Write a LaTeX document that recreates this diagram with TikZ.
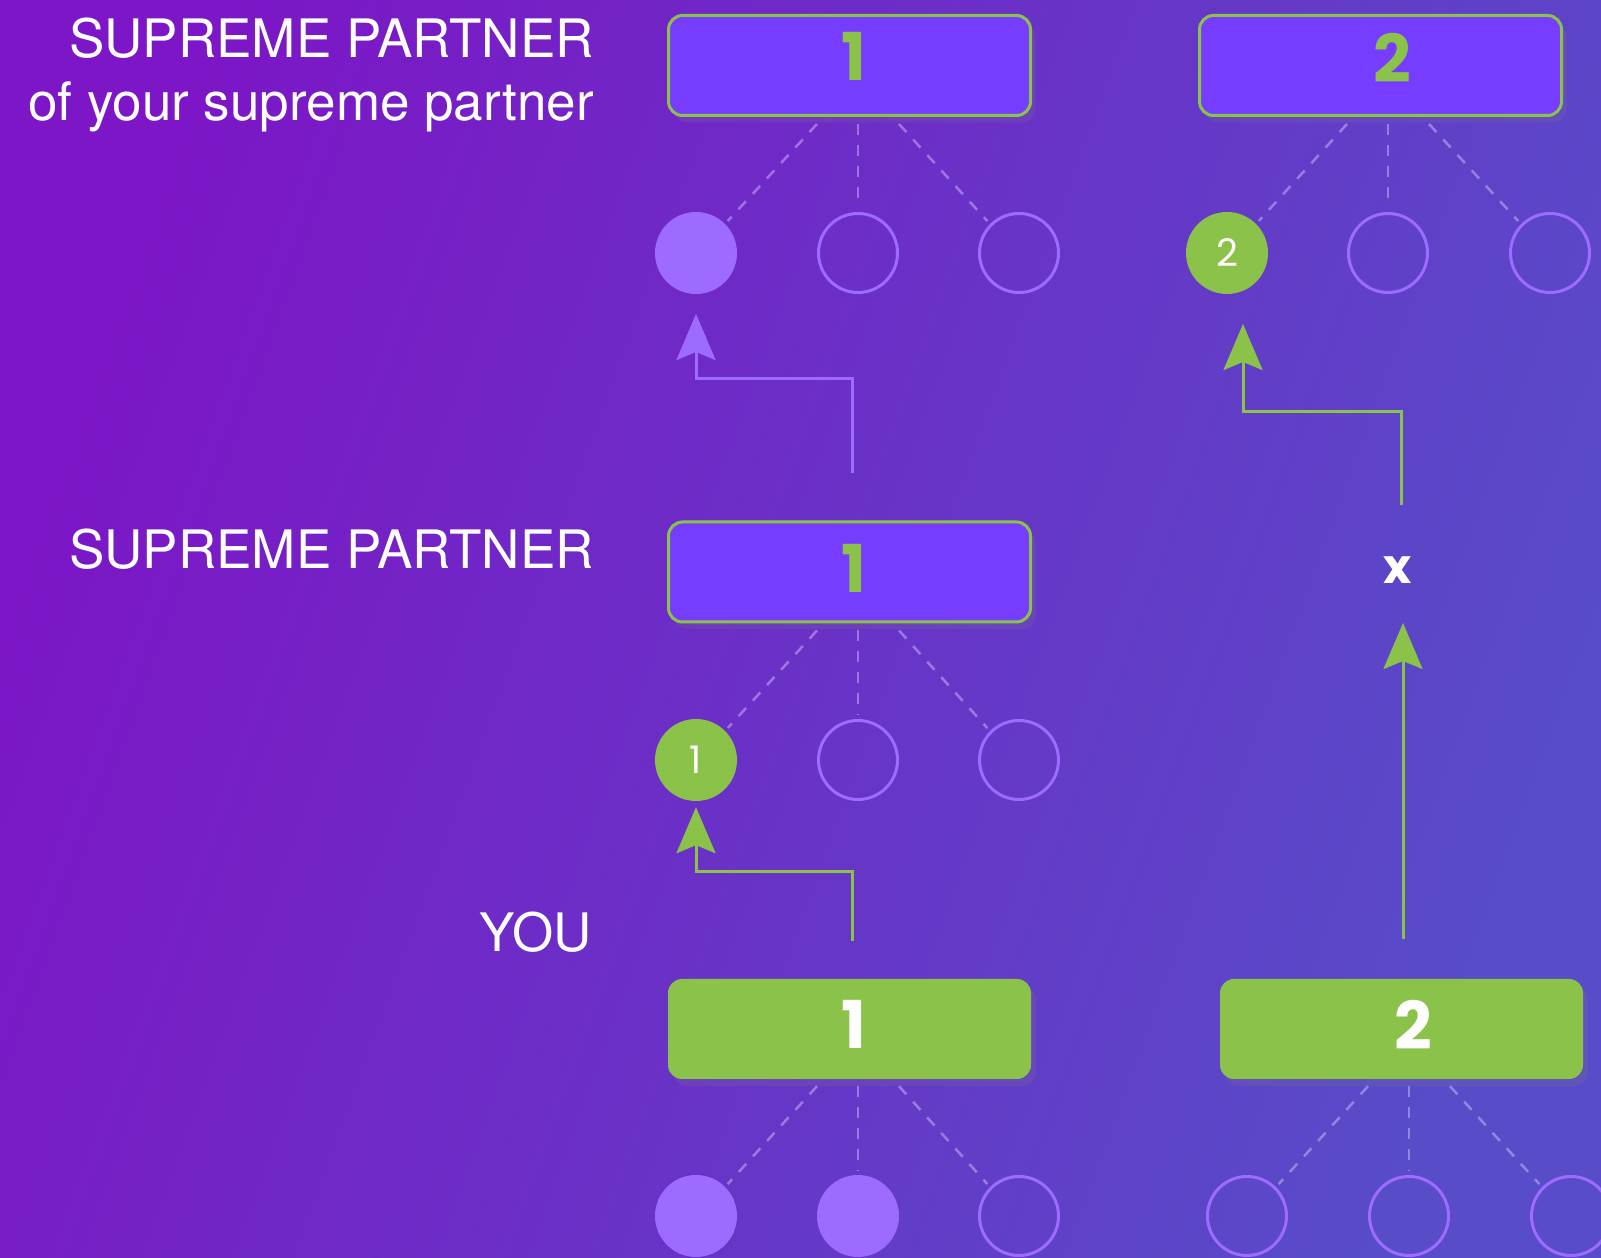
\documentclass[tikz,border=0pt]{standalone}
\usepackage{fontspec}
\setmainfont{TeX Gyre Heros}
\newfontfamily\numfont{Poppins}
\usetikzlibrary{positioning}
\usetikzlibrary{arrows.meta}
\usetikzlibrary{calc}
\usetikzlibrary{shadows}

\definecolor{bgtop}{HTML}{7C16C6}
\definecolor{bgbot}{HTML}{584CC8}
\definecolor{boxviolet}{HTML}{773DFF}
\definecolor{leaf}{HTML}{8BC34A}
\definecolor{lilac}{HTML}{9D6BFF}

\tikzset{
  boxshadow/.style={drop shadow={opacity=0.18, shadow xshift=5pt, shadow yshift=-7pt}},
  pbox/.style={draw=leaf, line width=3pt, fill=boxviolet, rounded corners=14pt,
    minimum width=362pt, minimum height=100pt, boxshadow},
  gbox/.style={fill=leaf, rounded corners=14pt,
    minimum width=363pt, minimum height=100pt, boxshadow},
  boxnum/.style={font=\numfont\bfseries\fontsize{66}{66}\selectfont, inner sep=0pt},
  member/.style={circle, draw=lilac, line width=3pt, minimum size=79pt, inner sep=0pt},
  taken/.style={member, fill=lilac},
  active/.style={circle, fill=leaf, minimum size=82pt, inner sep=0pt, text=white,
    font=\numfont\fontsize{38}{38}\selectfont},
  tie/.style={dash pattern=on 11pt off 10pt, line width=2.5pt, draw=white!65!lilac,
    opacity=0.45, shorten >=4pt},
  uparrow/.style={line width=3pt, -{Stealth[length=46pt, width=39pt, inset=8pt]}},
  lbl/.style={text=white, font=\fontsize{53}{63}\selectfont, inner sep=0pt, anchor=base east}
}

\begin{document}
\begin{tikzpicture}[x=1pt, y=1pt]
  \useasboundingbox (0,0) rectangle (1601,1258);
  \shade[top color=bgtop, bottom color=bgbot, shading angle=70] (0,0) rectangle (1601,1258);

  % labels on the left
  \node[lbl] (top label) at (594,1200) {SUPREME PARTNER};
  \node[lbl] (top label2) at (594,1137) {of your supreme partner};
  \node[lbl] (mid label) at (594,689) {SUPREME PARTNER};
  \node[lbl] (you label) at (592,306) {YOU};

  % boxes
  \node[pbox] (top1) at (849.5,1192.5) {};
  \node[pbox] (top2) at (1380.5,1192.5) {};
  \node[pbox] (mid1) at (849.5,686) {};
  \node[gbox] (you1) at (849.5,229) {};
  \node[gbox] (you2) at (1401.5,229) {};

  \node[boxnum, text=leaf] at ($(top1)+(4.5,9)$) {1};
  \node[boxnum, text=leaf] at ($(top2)+(11.5,8)$) {2};
  \node[boxnum, text=leaf] at ($(mid1)+(4.5,4)$) {1};
  \node[boxnum, text=white] at ($(you1)+(4,5)$) {1};
  \node[boxnum, text=white] at ($(you2)+(11.5,4)$) {2};

  % partners
  \node[taken] (a1) at (696,1005) {};
  \node[member] (a2) at (858,1005) {};
  \node[member] (a3) at (1019,1005) {};
  \node[active] (b1) at (1227,1005) {2};
  \node[member] (b2) at (1388,1005) {};
  \node[member] (b3) at (1550,1005) {};
  \node[active] (c1) at (696,498) {1};
  \node[member] (c2) at (858,498) {};
  \node[member] (c3) at (1019,498) {};
  \node[taken] (d1) at (696,42) {};
  \node[taken] (d2) at (858,42) {};
  \node[member] (d3) at (1019,42) {};
  \node[member] (e1) at (1247,42) {};
  \node[member] (e2) at (1409,42) {};
  \node[member] (e3) at (1571,42) {};

  \foreach \b/\l/\m/\r in {top1/a1/a2/a3, top2/b1/b2/b3, mid1/c1/c2/c3, you1/d1/d2/d3, you2/e1/e2/e3}{
    \draw[tie] ($(\b.south -| \m)+(-41,-7)$) -- (\l.north east);
    \draw[tie] ($(\b.south -| \m)+(0,-7)$) -- (\m.north);
    \draw[tie] ($(\b.south -| \m)+(41,-7)$) -- (\r.north west);
  }

  \node[text=white, font=\numfont\bfseries\fontsize{48}{48}\selectfont, inner sep=0pt] (x) at (1398,688) {x};

  % arrows
  \coordinate (s1) at (852,785);
  \coordinate (s2) at (852,317);
  \coordinate (s3) at (1401,753);
  \coordinate (t3) at (1243,934);
  \coordinate (s4) at (1403,319);
  \coordinate (t4) at (1403,635);

  \draw[uparrow, lilac] (s1) -- ++(0,94) -| ([yshift=-20pt]a1.south);
  \draw[uparrow, leaf] (s2) -- ++(0,69) -| ([yshift=-6pt]c1.south);
  \draw[uparrow, leaf] (s3) -- ++(0,93) -| (t3);
  \draw[uparrow, leaf] (s4) -- (t4);
\end{tikzpicture}
\end{document}
